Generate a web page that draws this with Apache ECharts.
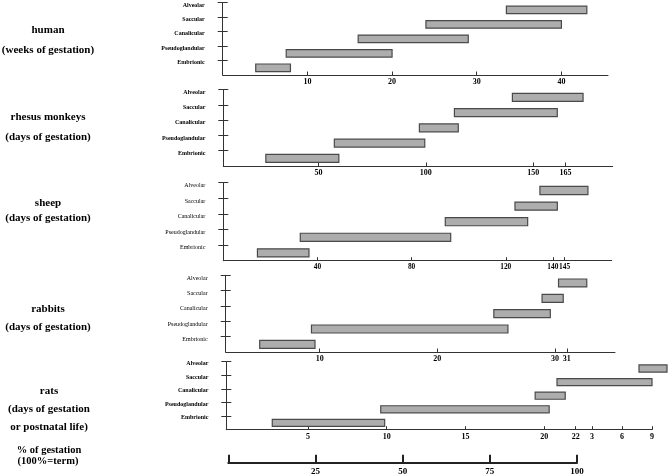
<!DOCTYPE html>
<html><head><meta charset="utf-8">
<script src="https://cdn.jsdelivr.net/npm/echarts@6/dist/echarts.min.js"></script>
<style>html,body{margin:0;padding:0;background:#fff}#c{width:669px;height:476px}</style>
</head><body><div id="c"></div>
<script>
// Stages, bottom to top
var stages = ['Embrionic', 'Pseudoglandular', 'Canalicular', 'Saccular', 'Alveolar'];

// human (weeks of gestation)
var humanStart = [3.9, 7.5, 16, 24, 33.5];
var humanEnd   = [8, 20, 29, 40, 43];
var humanTicks = [10, 20, 30, 40];

// rhesus monkeys (days of gestation)
var rhesusStart = [25.5, 57.4, 97, 113.3, 140.3];
var rhesusEnd   = [59.5, 99.5, 115.1, 161.2, 173.2];
var rhesusTicks = [50, 100, 150, 165];

// sheep (days of gestation)
var sheepStart = [14.5, 32.7, 94.3, 123.9, 134.5];
var sheepEnd   = [36.4, 96.6, 129.3, 141.9, 154.9];
var sheepTicks = [40, 80, 120, 140, 145];

// rabbits (days of gestation)
var rabbitStart = [4.9, 9.3, 24.8, 28.9, 30.3];
var rabbitEnd   = [9.6, 26.0, 29.6, 30.7, 32.7];
var rabbitTicks = [10, 20, 30, 31];

// rats: first three stages in days of gestation, last two in days relative to birth
var ratGestStages = ['Embrionic', 'Pseudoglandular', 'Canalicular'];
var ratGestStart  = [2.73, 9.62, 19.43];
var ratGestEnd    = [9.87, 20.32, 21.34];
var ratPostStages = ['Saccular', 'Alveolar'];
var ratPostStart  = [-0.5, 7.7];
var ratPostEnd    = [9.0, 10.5];
var ratGestTicks  = [5, 10, 15, 20, 22];
var ratPostTicks  = [3, 6, 9];

// % of gestation scale
var pctTicks = [0, 25, 50, 75, 100];
var pctLabels = [25, 50, 75, 100];

var SERIF = 'Liberation Serif';
var AX = '#333';

var grids = [], xAxes = [], yAxes = [], series = [];

function rows(startArr, endArr, names) {
  return startArr.map(function (s, i) { return [s, endArr[i], stages.indexOf(names ? names[i] : stages[i])]; });
}

function renderBar(params, api) {
  var idx = api.value(2);
  var a = api.coord([api.value(0), idx]);
  var b = api.coord([api.value(1), idx]);
  var h = api.size([0, 1])[1] * 0.52;
  return {
    type: 'rect',
    shape: { x: a[0], y: a[1] - h / 2, width: b[0] - a[0], height: h },
    style: { fill: '#adadad', stroke: '#4a4a4a', lineWidth: 1.2 }
  };
}

function xAxisDef(gi, min, max, ticks, fs) {
  return {
    type: 'value', gridIndex: gi, min: min, max: max, position: 'bottom',
    splitLine: { show: false },
    axisLine: { show: true, onZero: false, lineStyle: { color: AX, width: 1 } },
    axisTick: { show: true, inside: true, length: 3.5, customValues: ticks, lineStyle: { color: AX } },
    axisLabel: { customValues: ticks, hideOverlap: false, margin: 3, fontFamily: SERIF, fontWeight: 'bold', fontSize: fs || 8, color: '#000' }
  };
}

function addPanel(box, xmin, xmax, ticks, boldLabels, fs) {
  var gi = grids.length;
  grids.push({ left: box[0], top: box[1], width: box[2], height: box[3], containLabel: false });
  xAxes.push(xAxisDef(gi, xmin, xmax, ticks, fs));
  var tickInt = function (i) { return i > 0; };
  yAxes.push({
    type: 'category', gridIndex: gi, data: stages, position: 'left',
    axisLine: { show: true, onZero: false, lineStyle: { color: AX, width: 1 } },
    axisTick: { show: true, length: 5, interval: tickInt, lineStyle: { color: AX } },
    axisLabel: { interval: 0, margin: 18, fontFamily: SERIF, fontSize: 6, color: '#000',
      fontWeight: boldLabels ? 'bold' : 'normal', verticalAlign: 'bottom', lineHeight: 10 }
  });
  yAxes.push({
    type: 'category', gridIndex: gi, data: stages, position: 'left', offset: 0,
    axisLine: { show: false, onZero: false }, axisLabel: { show: false },
    axisTick: { show: true, inside: true, length: 5, interval: tickInt, lineStyle: { color: AX } }
  });
  return gi;
}

function addSeries(xi, yi, data) {
  series.push({ type: 'custom', xAxisIndex: xi, yAxisIndex: yi, renderItem: renderBar,
    encode: { x: [0, 1], y: 2 }, data: data, clip: false, silent: true });
}

var g;
g = addPanel([222.7, 2.3, 385.3, 72.7], 0, 45.5, humanTicks, true);
addSeries(xAxes.length - 1, yAxes.length - 2, rows(humanStart, humanEnd));

g = addPanel([223.3, 89.7, 389.4, 76.3], 5.7, 187.0, rhesusTicks, true);
addSeries(xAxes.length - 1, yAxes.length - 2, rows(rhesusStart, rhesusEnd));

g = addPanel([223.3, 182.7, 388.4, 78], 0, 165, sheepTicks, false, 7.4);
addSeries(xAxes.length - 1, yAxes.length - 2, rows(sheepStart, sheepEnd));

g = addPanel([225.7, 275.3, 389.3, 76.7], 2.01, 35.1, rabbitTicks, false);
addSeries(xAxes.length - 1, yAxes.length - 2, rows(rabbitStart, rabbitEnd));

g = addPanel([226.3, 361.7, 426, 68], -0.19, 26.87, ratGestTicks, true);
var ratY = yAxes.length - 2;
addSeries(xAxes.length - 1, ratY, rows(ratGestStart, ratGestEnd, ratGestStages));
// postnatal scale (days after birth) on the same grid
xAxes.push(xAxisDef(g, -33.57, 9.03, ratPostTicks));
xAxes[xAxes.length - 1].axisLine = { show: false, onZero: false };
addSeries(xAxes.length - 1, ratY, rows(ratPostStart, ratPostEnd, ratPostStages));

// % of gestation scale
var pg = grids.length;
grids.push({ left: 228.3, top: 452, width: 348.7, height: 10.7 });
xAxes.push({
  type: 'value', gridIndex: pg, min: 0, max: 100, position: 'bottom',
  splitLine: { show: false },
  axisLine: { show: true, onZero: false, lineStyle: { color: '#222', width: 2 } },
  axisTick: { show: true, inside: true, length: 8, customValues: pctTicks, lineStyle: { color: '#222', width: 2 } },
  axisLabel: { customValues: pctLabels, hideOverlap: false, margin: 4, fontFamily: SERIF, fontWeight: 'bold', fontSize: 9, color: '#000' }
});
yAxes.push({ type: 'value', gridIndex: pg, show: false });

function title(x, y, text, size) {
  return { type: 'text', x: x, y: y, style: { text: text, fill: '#000', font: 'bold ' + (size || 11) + 'px "' + SERIF + '"', textAlign: 'center', textVerticalAlign: 'middle' } };
}
var graphics = [
  title(48, 30, 'human'), title(48, 50, '(weeks of gestation)'),
  title(48, 117, 'rhesus monkeys'), title(48, 137, '(days of gestation)'),
  title(48, 203, 'sheep'), title(48, 218, '(days of gestation)'),
  title(48, 309, 'rabbits'), title(48, 327, '(days of gestation)'),
  title(49, 391, 'rats'), title(49, 409, '(days of gestation'), title(49, 427, 'or postnatal life)'),
  title(49, 450, '% of gestation', 10.5), title(48, 461, '(100%=term)', 10.5)
];

var chart = echarts.init(document.getElementById('c'), null, { renderer: 'canvas' });
chart.setOption({
  animation: false,
  backgroundColor: '#fff',
  grid: grids, xAxis: xAxes, yAxis: yAxes, series: series,
  graphic: graphics
});
</script></body></html>
